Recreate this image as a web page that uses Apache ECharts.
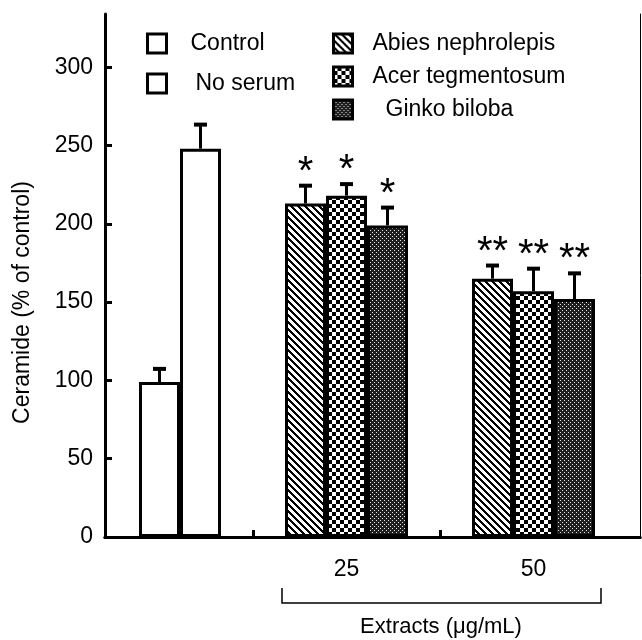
<!DOCTYPE html>
<html><head><meta charset="utf-8">
<script src="https://cdn.jsdelivr.net/npm/echarts@6/dist/echarts.min.js"></script>
<style>html,body{margin:0;padding:0;background:#fff}#c{width:642px;height:640px}</style>
</head><body><div id="c"></div>
<script>
// ---- data ----
const categories = ['', '25', '50', ''];
const controlVals = [99, null, null, null];
const controlErr  = [9, null, null, null];
const noSerumVals = [248, null, null, null];
const noSerumErr  = [16, null, null, null];
const abiesVals   = [null, 213, 165, null];
const abiesErr    = [null, 12, 9, null];
const acerVals    = [null, 218, 157, null];
const acerErr     = [null, 8, 15, null];
const ginkgoVals  = [null, 199, 152, null];
const ginkgoErr   = [null, 12, 17, null];
const abiesStars  = ['', '*', '**', ''];
const acerStars   = ['', '*', '**', ''];
const ginkgoStars = ['', '*', '**', ''];
const noStars     = ['', '', '', ''];
const yMax = 334;

// ---- styles ----
const FONT = '"Liberation Sans", Arial, Helvetica, sans-serif';
const BAR_W = 41;

function makePattern(size, fn) {
  const c = document.createElement('canvas');
  c.width = size; c.height = size;
  const ctx = c.getContext('2d');
  const img = ctx.createImageData(size, size);
  for (let y = 0; y < size; y++) for (let x = 0; x < size; x++) {
    const v = fn(x, y), i = (y * size + x) * 4;
    img.data[i] = v; img.data[i+1] = v; img.data[i+2] = v; img.data[i+3] = 255;
  }
  ctx.putImageData(img, 0, 0);
  return { image: c, repeat: 'repeat' };
}
const patDiag = makePattern(7, (x, y) => (((x - y) % 7) + 7) % 7 < 3 ? 0 : 255);
const patCheck = makePattern(8, (x, y) => ((Math.floor(x / 4) + Math.floor(y / 4)) % 2) ? 0 : 255);
const patDots = makePattern(4, (x, y) => ((x === 0 && y === 0) || (x === 2 && y === 2)) ? 230 : 30);

function barSeries(name, vals, color, xAxisIndex) {
  return {
    name, type: 'bar', xAxisIndex, yAxisIndex: 2, data: vals,
    barWidth: BAR_W, barGap: '0%',
    itemStyle: { color, borderColor: '#000', borderWidth: 3 },
    emphasis: { disabled: true }, animation: false, z: 3
  };
}
function errSeries(vals, errs, stars, slot, nSlots, xAxisIndex) {
  const data = [];
  vals.forEach((v, i) => { if (v != null) data.push([i, v, errs[i], i]); });
  return {
    type: 'custom', xAxisIndex, yAxisIndex: 2, data, z: 5, animation: false, silent: true,
    renderItem: function (params, api) {
      const cat = api.value(0), v = api.value(1), e = api.value(2);
      const star = stars[api.value(3)];
      const base = api.coord([cat, v]);
      const top = api.coord([cat, v + e]);
      const x = base[0] + (slot - (nSlots - 1) / 2) * BAR_W;
      const ch = [
        { type: 'line', shape: { x1: x, y1: base[1], x2: x, y2: top[1] }, style: { stroke: '#000', lineWidth: 3 } },
        { type: 'line', shape: { x1: x - 6.5, y1: top[1] + 1, x2: x + 6.5, y2: top[1] + 1 }, style: { stroke: '#000', lineWidth: 4 } }
      ];
      if (star) ch.push({ type: 'text', style: { text: star, x: x, y: top[1] - 12, align: 'center', verticalAlign: 'middle', font: '40px ' + FONT, fill: '#000' } });
      return { type: 'group', children: ch };
    }
  };
}

const chart = echarts.init(document.getElementById('c'), null, { renderer: 'canvas' });
const hiddenCat = { type: 'category', data: categories, show: false };
chart.setOption({
  backgroundColor: '#fff',
  animation: false,
  grid: [
    { left: 105, right: 2, top: 14, bottom: 103, outerBoundsMode: 'none', containLabel: false },
    { left: 66, width: 748, top: 14, bottom: 103, outerBoundsMode: 'none', containLabel: false }
  ],
  xAxis: [
    { gridIndex: 0, type: 'category', data: [''], position: 'bottom',
      axisLine: { lineStyle: { color: '#000', width: 3 } }, axisTick: { show: false }, axisLabel: { show: false } },
    { gridIndex: 0, type: 'category', data: [''], position: 'top',
      axisLine: { lineStyle: { color: '#000', width: 3 } }, axisTick: { show: false }, axisLabel: { show: false } },
    Object.assign({ gridIndex: 1 }, hiddenCat),
    { gridIndex: 1, type: 'category', data: categories, position: 'bottom',
      axisLine: { show: false },
      axisTick: { show: true, inside: true, length: 7, lineStyle: { color: '#000', width: 3 },
        interval: function (idx) { return idx === 1 || idx === 2; } },
      axisLabel: { show: true, interval: 0, margin: 21, fontSize: 23, color: '#000', fontFamily: FONT } }
  ],
  yAxis: [
    { gridIndex: 0, type: 'value', min: 0, max: yMax, interval: 50, position: 'left',
      name: 'Ceramide (% of control)', nameLocation: 'middle', nameGap: 71,
      nameTextStyle: { fontSize: 23, color: '#000', fontFamily: FONT, padding: [0, 54, 0, 0] },
      axisLine: { show: true, lineStyle: { color: '#000', width: 3 } },
      axisTick: { show: true, inside: true, length: 7, lineStyle: { color: '#000', width: 3 } },
      axisLabel: { show: true, margin: 12, fontSize: 23, color: '#000', fontFamily: FONT, showMaxLabel: false },
      splitLine: { show: false } },
    { gridIndex: 0, type: 'value', min: 0, max: yMax, position: 'right',
      axisLine: { show: true, lineStyle: { color: '#000', width: 1 } },
      axisTick: { show: false }, axisLabel: { show: false }, splitLine: { show: false } },
    { gridIndex: 1, type: 'value', min: 0, max: yMax, show: false, splitLine: { show: false } }
  ],
  legend: [
    { data: ['Control', { name: 'No serum', textStyle: { padding: [0, 0, 0, 24] } }],
      orient: 'vertical', left: 146, top: 32, padding: 0, itemWidth: 19, itemHeight: 19, itemGap: 17,
      icon: 'rect', selectedMode: false,
      itemStyle: { borderColor: '#000', borderWidth: 3 },
      textStyle: { fontSize: 23, color: '#000', fontFamily: FONT, padding: [0, 0, 0, 19] } },
    { data: ['Abies nephrolepis', 'Acer tegmentosum', { name: 'Ginko biloba', textStyle: { padding: [0, 0, 0, 28] } }],
      orient: 'vertical', left: 332, top: 32, padding: 0, itemWidth: 19, itemHeight: 19, itemGap: 10,
      icon: 'rect', selectedMode: false,
      itemStyle: { borderColor: '#000', borderWidth: 3 },
      textStyle: { fontSize: 23, color: '#000', fontFamily: FONT, padding: [0, 0, 0, 15] } }
  ],
  series: [
    barSeries('_pad', [null, null, null, null], '#fff', 2),
    barSeries('Control', controlVals, '#fff', 2),
    barSeries('No serum', noSerumVals, '#fff', 2),
    barSeries('Abies nephrolepis', abiesVals, patDiag, 3),
    barSeries('Acer tegmentosum', acerVals, patCheck, 3),
    barSeries('Ginko biloba', ginkgoVals, patDots, 3),
    errSeries(controlVals, controlErr, noStars, 1, 3, 2),
    errSeries(noSerumVals, noSerumErr, noStars, 2, 3, 2),
    errSeries(abiesVals, abiesErr, abiesStars, 0, 3, 3),
    errSeries(acerVals, acerErr, acerStars, 1, 3, 3),
    errSeries(ginkgoVals, ginkgoErr, ginkgoStars, 2, 3, 3)
  ],
  graphic: [
    { type: 'polyline', silent: true, shape: { points: [[282, 588], [282, 603], [601, 603], [601, 588]] },
      style: { stroke: '#000', lineWidth: 1.5, fill: null } },
    { type: 'text', silent: true, x: 441, y: 627,
      style: { text: 'Extracts (\u03bcg/mL)', align: 'center', verticalAlign: 'middle', font: '22px ' + FONT, fill: '#000' } }
  ]
});
</script></body></html>
